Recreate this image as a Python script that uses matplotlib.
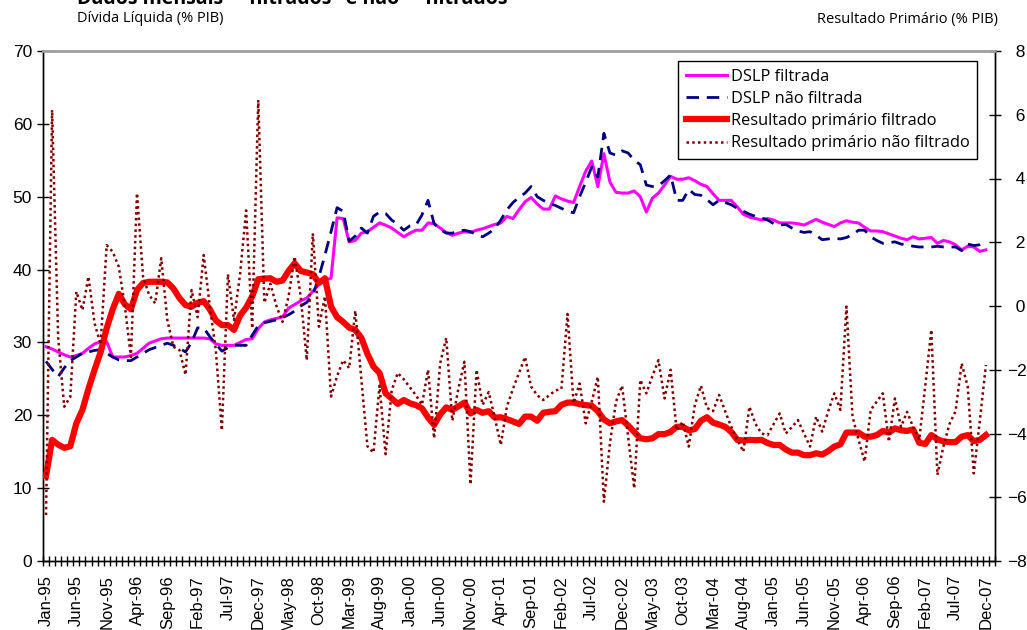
import numpy as np
import matplotlib
matplotlib.use("Agg")
import matplotlib.pyplot as plt
from matplotlib.lines import Line2D

# Monthly series, Jan-95 .. Dec-07 (one row per year)
dslp_filtrada = [
    29.4, 29.1, 28.7, 28.3, 28.0, 28.2, 28.5, 29.2, 29.8, 30.1, 30.1, 28.0,
    28.0, 28.0, 28.2, 28.5, 29.2, 29.9, 30.2, 30.5, 30.6, 30.6, 30.6, 30.6,
    30.6, 30.6, 30.6, 30.5, 29.8, 29.6, 29.6, 29.6, 30.0, 30.4, 30.5, 31.9,
    32.8, 33.1, 33.3, 33.5, 34.7, 35.2, 35.7, 36.1, 37.0, 38.0, 38.6, 38.8,
    47.1, 47.0, 43.8, 44.0, 45.0, 45.2, 45.8, 46.4, 46.1, 45.7, 45.1, 44.5,
    45.0, 45.4, 45.4, 46.4, 46.3, 45.7, 45.1, 44.7, 45.0, 45.2, 45.1, 45.4,
    45.6, 45.9, 46.2, 46.4, 47.3, 47.0, 48.2, 49.3, 49.9, 49.0, 48.3, 48.3,
    50.1, 49.7, 49.4, 49.2, 51.4, 53.5, 54.9, 51.4, 55.9, 52.0, 50.6, 50.5,
    50.5, 50.8, 50.0, 47.9, 49.8, 50.5, 51.6, 52.8, 52.4, 52.4, 52.6, 52.2,
    51.7, 51.4, 50.4, 49.5, 49.5, 49.5, 48.6, 47.6, 47.2, 47.0, 46.8, 47.0,
    46.8, 46.4, 46.4, 46.4, 46.3, 46.1, 46.5, 46.9, 46.5, 46.2, 45.9, 46.4,
    46.7, 46.5, 46.4, 45.8, 45.3, 45.3, 45.2, 44.9, 44.6, 44.3, 44.1, 44.5,
    44.2, 44.3, 44.4, 43.6, 44.0, 43.8, 43.4, 42.7, 43.2, 43.1, 42.5, 42.7,
]

dslp_nao_filtrada = [
    27.4, 26.3, 25.3, 26.5, 27.5, 28.0, 28.5, 28.7, 28.9, 29.0, 28.5, 28.0,
    27.6, 27.5, 27.5, 28.0, 28.5, 29.0, 29.3, 29.6, 29.9, 29.6, 29.2, 28.7,
    30.0, 32.0, 32.0, 30.8, 29.8, 28.8, 29.3, 29.6, 29.6, 29.6, 31.0, 32.3,
    32.7, 32.9, 33.1, 33.4, 33.8, 34.3, 35.0, 35.5, 36.5, 39.0, 42.0, 45.2,
    48.5, 48.0, 43.9, 44.6, 45.7, 45.0, 47.3, 47.9, 47.7, 46.8, 46.2, 45.4,
    46.0, 46.1, 47.5, 49.5, 46.3, 45.5, 45.0, 45.0, 45.3, 45.4, 45.2, 44.8,
    44.5, 45.0, 45.6, 46.8, 48.2, 49.2, 49.9, 50.5, 51.4, 50.0, 49.5, 49.1,
    48.8, 48.4, 48.0, 47.8, 50.0, 52.0, 54.1, 52.7, 58.7, 56.0, 55.7, 56.3,
    56.0, 55.0, 54.4, 51.6, 51.4, 51.5, 52.2, 53.0, 49.5, 49.5, 51.0, 50.3,
    50.2, 49.6, 48.9, 49.5, 49.2, 48.9, 48.4, 48.0, 47.6, 47.3, 47.1, 46.8,
    46.3, 46.1, 46.2, 45.7, 45.3, 45.1, 45.2, 44.7, 44.1, 44.2, 44.3, 44.2,
    44.4, 44.8, 45.4, 45.4, 44.5, 44.0, 43.6, 43.7, 43.8, 43.5, 43.4, 43.2,
    43.1, 43.1, 43.1, 43.2, 43.1, 43.1, 43.1, 42.6, 43.5, 43.3, 43.4, 43.7,
]

primario_filtrado = [
    -5.33, -4.2, -4.35, -4.45, -4.4, -3.68, -3.26, -2.6, -2.0, -1.45, -0.7, -0.1,
    0.38, 0.05, -0.1, 0.5, 0.72, 0.76, 0.76, 0.76, 0.74, 0.55, 0.25, 0.03,
    -0.02, 0.1, 0.15, -0.1, -0.45, -0.6, -0.6, -0.75, -0.3, -0.05, 0.3, 0.84,
    0.86, 0.87, 0.76, 0.8, 1.1, 1.34, 1.1, 1.05, 1.0, 0.72, 0.87, -0.02,
    -0.35, -0.5, -0.68, -0.75, -1.0, -1.5, -1.9, -2.1, -2.74, -2.9, -3.07, -2.95,
    -3.05, -3.11, -3.21, -3.5, -3.73, -3.4, -3.18, -3.26, -3.15, -3.03, -3.37, -3.26,
    -3.35, -3.3, -3.5, -3.49, -3.55, -3.62, -3.7, -3.47, -3.47, -3.6, -3.35, -3.32,
    -3.3, -3.1, -3.03, -3.03, -3.08, -3.11, -3.13, -3.3, -3.56, -3.68, -3.62, -3.58,
    -3.75, -3.95, -4.15, -4.18, -4.15, -4.02, -4.02, -3.95, -3.79, -3.79, -3.9, -3.86,
    -3.6, -3.49, -3.66, -3.72, -3.79, -3.95, -4.2, -4.22, -4.2, -4.21, -4.2, -4.3,
    -4.36, -4.36, -4.5, -4.6, -4.6, -4.68, -4.68, -4.62, -4.66, -4.55, -4.41, -4.34,
    -3.97, -3.97, -3.97, -4.1, -4.1, -4.05, -3.92, -3.97, -3.84, -3.9, -3.92, -3.87,
    -4.29, -4.33, -4.05, -4.18, -4.25, -4.27, -4.27, -4.1, -4.05, -4.24, -4.2, -4.05,
]

primario_nao_filtrado = [
    -6.56, 6.15, -1.0, -3.16, -2.85, 0.45, -0.13, 0.92, -0.54, -1.2, 1.91, 1.7,
    1.23, 0.0, -1.6, 3.54, 0.92, 0.35, 0.08, 1.5, -0.44, -1.28, -1.38, -2.16,
    0.5, -0.35, 1.6, 0.0, -1.38, -3.9, 1.0, -0.44, 1.0, 3.0, -0.7, 6.46,
    0.1, 0.7, 0.0, -0.5, 0.3, 1.55, 0.3, -1.7, 2.28, -0.65, 0.3, -2.84,
    -2.2, -1.7, -1.95, -0.15, -2.3, -4.4, -4.6, -2.5, -4.65, -2.65, -2.1, -2.3,
    -2.55, -2.8, -3.1, -2.0, -4.15, -1.8, -1.0, -3.6, -2.6, -1.75, -5.6, -2.0,
    -3.1, -2.7, -3.5, -4.36, -3.16, -2.6, -2.1, -1.6, -2.53, -2.8, -2.95, -2.8,
    -2.65, -2.6, -0.25, -3.05, -2.43, -3.68, -3.0, -2.22, -6.14, -4.3, -3.0, -2.5,
    -4.1, -5.72, -2.32, -2.74, -2.2, -1.7, -2.9, -2.0, -3.9, -3.63, -4.41, -3.1,
    -2.5, -3.2, -3.3, -2.79, -3.3, -3.79, -4.2, -4.57, -3.16, -3.7, -4.0, -4.05,
    -3.7, -3.37, -4.0, -3.8, -3.58, -4.0, -4.41, -3.47, -3.94, -3.3, -2.74, -3.26,
    -0.02, -3.47, -4.2, -4.88, -3.26, -3.0, -2.74, -4.26, -2.9, -3.79, -3.32, -3.8,
    -4.2, -2.5, -0.75, -5.3, -4.4, -3.7, -3.3, -1.8, -2.53, -5.25, -3.6, -1.85,
]

tick_labels = [
    "Jan-95", "Jun-95", "Nov-95", "Apr-96", "Sep-96", "Feb-97", "Jul-97", "Dec-97",
    "May-98", "Oct-98", "Mar-99", "Aug-99", "Jan-00", "Jun-00", "Nov-00", "Apr-01",
    "Sep-01", "Feb-02", "Jul-02", "Dec-02", "May-03", "Oct-03", "Mar-04", "Aug-04",
    "Jan-05", "Jun-05", "Nov-05", "Apr-06", "Sep-06", "Feb-07", "Jul-07", "Dec-07",
]
right_ticks = list(range(-8, 9, 2))

x = np.arange(len(dslp_filtrada))

fig = plt.figure(figsize=(10.27, 6.30), dpi=100)
ax = fig.add_axes([43 / 1027, 1 - 561 / 630, 952 / 1027, 510 / 630])
ax2 = ax.twinx()

ax.plot(x, dslp_filtrada, color="#ff00ff", lw=2.2, zorder=3)
ax.plot(x, dslp_nao_filtrada, color="#000080", lw=2.0, dashes=(4.5, 2.8), zorder=4)
ax2.plot(x, primario_filtrado, color="#ff0000", lw=4.5, solid_joinstyle="round", zorder=3)
ax2.plot(x, primario_nao_filtrado, color="#800000", lw=1.8, dashes=(1, 1.3), zorder=4)

ax.set_xlim(-0.5, 156.5)
ax.set_ylim(0, 70)
ax2.set_ylim(-8, 8)
ax.set_yticks(range(0, 71, 10))
ax2.set_yticks(right_ticks)
# positive labels get a leading space so the digits line up past the minus sign
ax2.set_yticklabels([("\u2212%d" % -v) if v < 0 else ("\u2002%d" % v) for v in right_ticks])

ax.set_xticks(x[::5])
ax.set_xticklabels(tick_labels, rotation=90, fontsize=12, family="Liberation Sans")
ax.set_xticks(np.arange(-0.5, 157, 1), minor=True)
ax.tick_params(axis="x", which="major", length=0, pad=10)
ax.tick_params(axis="x", which="minor", direction="inout", length=7, width=1)
ax.tick_params(axis="y", direction="inout", length=8, width=1, pad=4, labelsize=12.5)
ax2.tick_params(axis="y", direction="inout", length=8, width=1, pad=4.5, labelsize=12.5)
for lbl in ax.get_yticklabels() + ax2.get_yticklabels():
    lbl.set_family("Liberation Sans")

for a in (ax, ax2):
    a.spines["top"].set_color("#a0a0a0")
    a.spines["top"].set_linewidth(1.8)
    for s in ("left", "right", "bottom"):
        a.spines[s].set_linewidth(1.0)
        a.spines[s].set_color("black")

handles = [
    Line2D([], [], color="#ff00ff", lw=2.2),
    Line2D([], [], color="#000080", lw=2.0, dashes=(4.5, 2.8)),
    Line2D([], [], color="#ff0000", lw=4.5),
    Line2D([], [], color="#800000", lw=1.8, dashes=(1, 1.3)),
]
labels = ["DSLP filtrada", "DSLP não filtrada",
          "Resultado primário filtrado", "Resultado primário não filtrado"]
leg = ax2.legend(handles, labels, loc="upper right", bbox_to_anchor=(0.981, 0.980),
                 borderaxespad=0, frameon=True, fancybox=False, framealpha=1,
                 edgecolor="black", handlelength=2.5, handletextpad=0.25,
                 labelspacing=0.38, borderpad=0.45,
                 prop={"family": "Open Sans", "size": 11.8})
leg.get_frame().set_linewidth(1.0)

fig.text(77 / 1027, 1 - 4 / 630, 'Dados mensais - "filtrados" e não - "filtrados"',
         fontsize=14, fontweight="bold", family="Open Sans", va="baseline")
fig.text(77 / 1027, 1 - 19 / 630, "Dívida Líquida (% PIB)",
         fontsize=10.5, family="Open Sans", va="center", ha="left")
fig.text(998 / 1027, 1 - 19 / 630, "Resultado Primário (% PIB)",
         fontsize=10.5, family="Open Sans", va="center", ha="right")

fig.savefig("out.png", dpi=100)
